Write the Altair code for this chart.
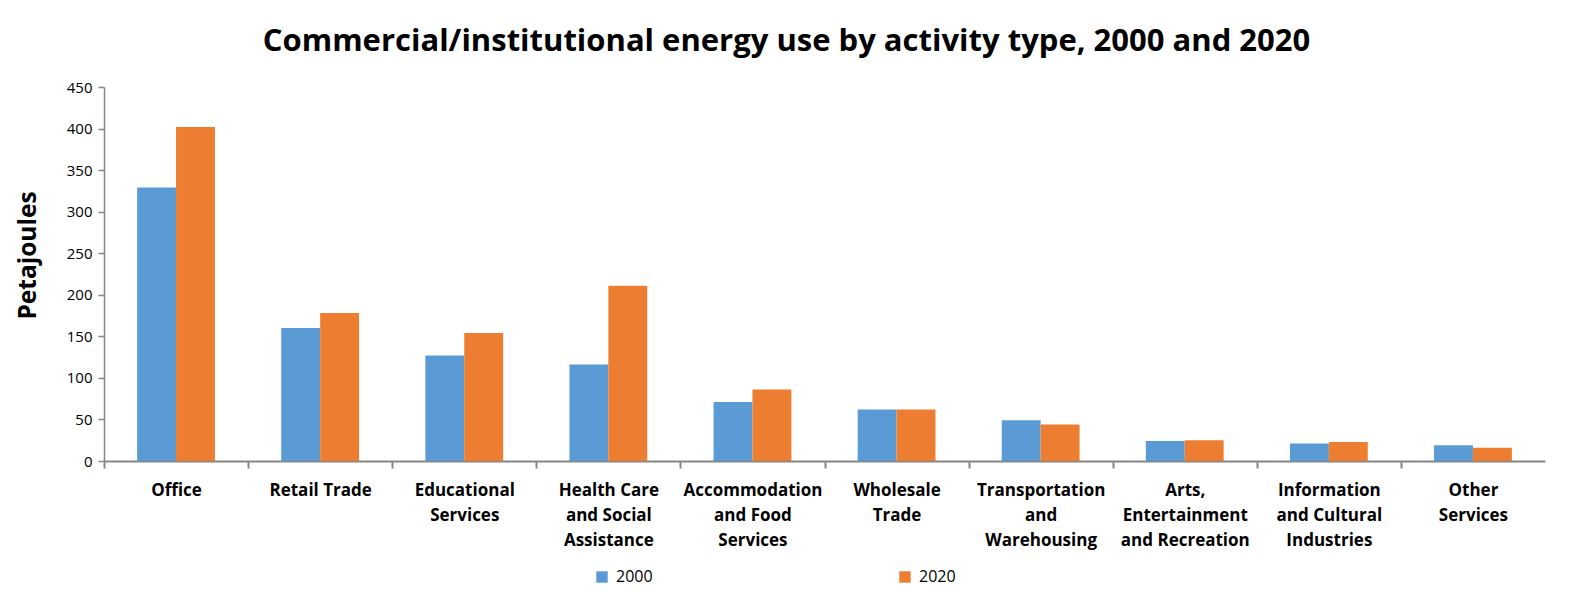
import altair as alt
import pandas as pd

categories = [
    "Office", "Retail Trade", "Educational|Services", "Health Care|and Social|Assistance",
    "Accommodation|and Food|Services", "Wholesale|Trade", "Transportation|and|Warehousing",
    "Arts,|Entertainment|and Recreation", "Information|and Cultural|Industries", "Other|Services",
]
values_2000 = [329, 160, 127, 116, 71, 62, 49, 24, 21, 19]
values_2020 = [402, 178, 154, 211, 86, 62, 44, 25, 23, 16]
years = ["2000", "2020"]
colors = ["#5B9BD5", "#ED7D31"]

rows = []
for c, a, b in zip(categories, values_2000, values_2020):
    rows.append({"cat": c, "year": "2000", "value": a})
    rows.append({"cat": c, "year": "2020", "value": b})
df = pd.DataFrame(rows)

W, H = 1441, 374
step = W / len(categories)
font = "Open Sans"

chart = alt.Chart(df).mark_bar().encode(
    x=alt.X("cat:N", sort=categories, title=None,
            scale=alt.Scale(paddingInner=0.46, paddingOuter=0.23),
            axis=alt.Axis(labelExpr="split(datum.label, '|')", labelAngle=0,
                          labelFont=font, labelFontSize=17, labelFontWeight="bold",
                          labelColor="#000000", labelLineHeight=25, labelPadding=14,
                          labelBaseline="top",
                          tickOffset=-step / 2, labelOffset=step / 2,
                          domainColor="#868686", domainWidth=2, tickColor="#868686",
                          tickWidth=2, tickSize=7)),
    xOffset=alt.XOffset("year:N", sort=years),
    y=alt.Y("value:Q", title="Petajoules",
            scale=alt.Scale(domain=[0, 450], nice=False),
            axis=alt.Axis(values=list(range(0, 451, 50)), grid=False,
                          labelFont=font, labelFontSize=15, labelColor="#000000",
                          labelPadding=6,
                          titleFont=font, titleFontSize=24.5, titleFontWeight="bold",
                          titleColor="#000000", titleX=-64, titleY=H / 2 - 19,
                          domainColor="#868686", domainWidth=1.5, tickColor="#868686",
                          tickWidth=1.5, tickSize=6)),
    color=alt.Color("year:N", sort=years, scale=alt.Scale(domain=years, range=colors),
                    legend=alt.Legend(title=None, orient="none", direction="horizontal",
                                      legendX=490, legendY=482, symbolType="square",
                                      symbolSize=130, symbolStrokeWidth=0,
                                      labelFont=font, labelFontSize=16, labelColor="#000000",
                                      labelOffset=6, columnPadding=244)),
).properties(
    width=W, height=H,
    title=alt.TitleParams("Commercial/institutional energy use by activity type, 2000 and 2020",
                          font=font, fontSize=31, fontWeight="bold", color="#000000",
                          anchor="middle", dx=-38, offset=22),
    autosize=alt.AutoSizeParams(type="none"),
    padding={"left": 104, "top": 87, "right": 31, "bottom": 154},
).configure_view(stroke=None)

chart.save("out.html", embed_options={"renderer": "svg", "actions": False})
